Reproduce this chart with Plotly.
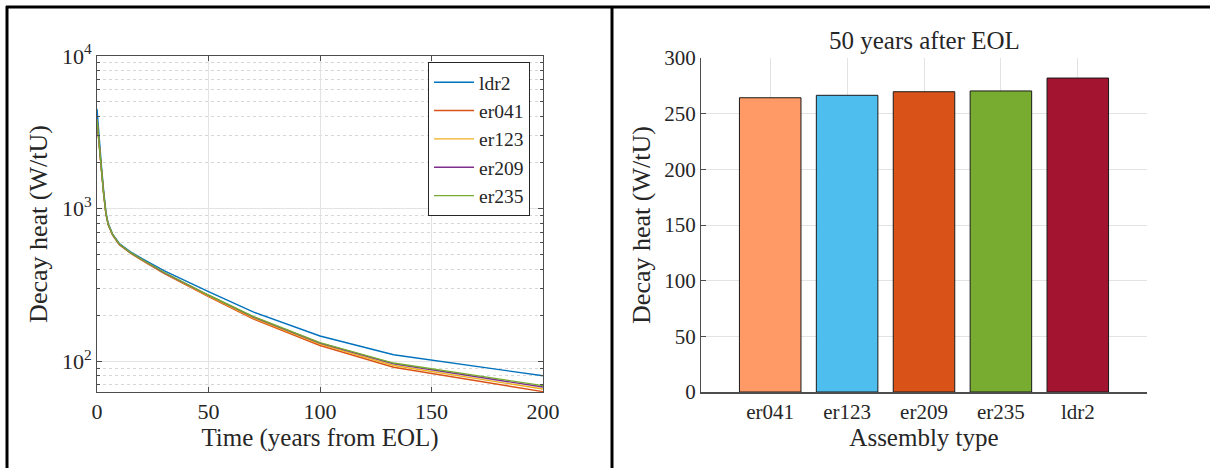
import plotly.graph_objects as go

# ---- decay heat curves (W/tU) vs time after end of life (years) ----
time_years = [0, 1, 2, 3, 4, 5, 7, 10, 15, 20, 30, 50, 70, 100, 133, 200]

heat_ldr2 = [4500, 2700, 1900, 1300, 950, 800, 680, 590, 520, 472, 392, 285, 210, 146, 110, 80]
heat_er041 = [3790, 2470, 1780, 1235, 920, 783, 669, 579, 509, 459, 376, 264, 189, 126.5, 91, 63]
heat_er123 = [3810, 2480, 1785, 1240, 922, 785, 671, 581, 511, 461, 378, 267, 192, 129, 93.5, 65.5]
heat_er209 = [3830, 2490, 1790, 1245, 925, 787, 673, 583, 513, 463, 380, 270, 195, 131, 96, 67.5]
heat_er235 = [3850, 2500, 1800, 1250, 930, 790, 675, 585, 515, 465, 382, 271, 196, 132, 97, 69]

line_names = ["ldr2", "er041", "er123", "er209", "er235"]
line_data = [heat_ldr2, heat_er041, heat_er123, heat_er209, heat_er235]
line_colors = ["#0072BD", "#D95319", "#EDB120", "#7E2F8E", "#77AC30"]

# ---- decay heat 50 years after EOL ----
assembly_types = ["er041", "er123", "er209", "er235", "ldr2"]
heat_50y = [264.3, 266.5, 269.7, 270.4, 282.0]
bar_colors = ["#FF9966", "#4DBEEE", "#D95319", "#77AC30", "#A2142F"]

W, H = 1210, 468
FONT = "Liberation Serif"
TXT = "#262626"
GRID = "#e3e3e3"
AXIS = "#4d4d4d"


def px_x(p):
    return p / W


def px_y(p):
    return 1 - p / H


fig = go.Figure()

for name, vals, col in zip(line_names, line_data, line_colors):
    fig.add_trace(go.Scatter(
        x=time_years, y=vals, name=name, mode="lines",
        line=dict(color=col, width=1.4),
        xaxis="x", yaxis="y",
    ))

fig.add_trace(go.Bar(
    x=assembly_types, y=heat_50y, width=0.8,
    marker=dict(color=bar_colors, line=dict(color="#1a1a1a", width=1)),
    showlegend=False, xaxis="x2", yaxis="y2",
))

minor_vals = [m * 10 ** e for e in (1, 2, 3) for m in range(2, 10)]

fig.update_layout(
    width=W, height=H, autosize=False,
    margin=dict(l=0, r=0, t=0, b=0, pad=0, autoexpand=False),
    paper_bgcolor="white", plot_bgcolor="white",
    font=dict(family=FONT, size=21, color=TXT),
    showlegend=True,
    legend=dict(
        x=px_x(428), y=px_y(62), xanchor="left", yanchor="top",
        bgcolor="white", bordercolor="#262626", borderwidth=1,
        font=dict(family=FONT, size=19.5, color=TXT),
        tracegroupgap=0, itemwidth=40,
    ),
    xaxis=dict(
        domain=[px_x(97), px_x(543)], anchor="y", automargin=False,
        range=[0, 200], tickvals=[0, 50, 100, 150, 200],
        showgrid=True, gridcolor=GRID, gridwidth=1,
        zeroline=False, showline=True, linecolor=AXIS, linewidth=1, mirror="ticks",
        ticks="inside", ticklen=5, tickcolor=AXIS,
        tickfont=dict(size=22),
        title=dict(text="Time (years from EOL)", font=dict(size=25), standoff=4),
    ),
    yaxis=dict(
        domain=[px_y(392), px_y(56)], anchor="x", automargin=False,
        type="log", range=[1.797, 4],
        tickvals=[100, 1000, 10000],
        ticktext=["10<sup>2</sup>", "10<sup>3</sup>", "10<sup>4</sup>"],
        showgrid=True, gridcolor=GRID, gridwidth=1,
        zeroline=False, showline=True, linecolor=AXIS, linewidth=1, mirror="ticks",
        ticks="inside", ticklen=5, tickcolor=AXIS,
        tickfont=dict(size=22),
        minor=dict(tickvals=minor_vals, ticks="inside", ticklen=3, tickcolor=AXIS,
                   showgrid=True, gridcolor="#d6d6d6", griddash="dot", gridwidth=1),
        title=dict(text="Decay heat (W/tU)", font=dict(size=26), standoff=6),
    ),
    xaxis2=dict(
        domain=[px_x(701), px_x(1147)], anchor="y2", automargin=False,
        type="category", categoryorder="array", categoryarray=assembly_types,
        range=[-0.9, 4.9],
        showgrid=True, gridcolor=GRID, gridwidth=1,
        zeroline=False, showline=True, linecolor=AXIS, linewidth=1.5,
        ticks="", tickfont=dict(size=21),
        title=dict(text="Assembly type", font=dict(size=25), standoff=2),
    ),
    yaxis2=dict(
        domain=[px_y(392), px_y(58)], anchor="x2", automargin=False,
        range=[0, 300], tickvals=[0, 50, 100, 150, 200, 250, 300],
        showgrid=True, gridcolor=GRID, gridwidth=1,
        zeroline=False, showline=True, linecolor=AXIS, linewidth=1,
        ticks="inside", ticklen=5, tickcolor=AXIS,
        tickfont=dict(size=21),
        title=dict(text="Decay heat (W/tU)", font=dict(size=26), standoff=6),
    ),
    annotations=[dict(
        text="50 years after EOL", x=px_x(924), y=px_y(40),
        xref="paper", yref="paper", xanchor="center", yanchor="middle",
        showarrow=False, font=dict(family=FONT, size=25, color=TXT),
    )],
    shapes=[
        dict(type="line", xref="paper", yref="paper",
             x0=px_x(6), x1=1, y0=px_y(7), y1=px_y(7),
             line=dict(color="black", width=3)),
        dict(type="line", xref="paper", yref="paper",
             x0=px_x(7), x1=px_x(7), y0=px_y(6), y1=0,
             line=dict(color="black", width=3)),
        dict(type="line", xref="paper", yref="paper",
             x0=px_x(612), x1=px_x(612), y0=px_y(6), y1=0,
             line=dict(color="black", width=3)),
    ],
)

fig.write_html("out.html")
